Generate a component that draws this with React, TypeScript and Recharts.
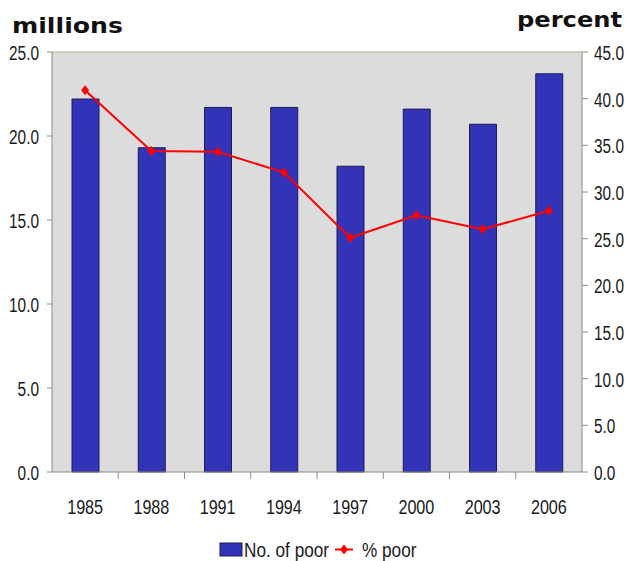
import { ComposedChart, Bar, Line, XAxis, YAxis, CartesianGrid, ReferenceLine } from "recharts"

const years = ["1985", "1988", "1991", "1994", "1997", "2000", "2003", "2006"]
const numPoor = [22.2, 19.3, 21.7, 21.7, 18.2, 21.6, 20.7, 23.7]
const pctPoor = [40.9, 34.4, 34.3, 32.1, 25.1, 27.5, 26.0, 28.0]
const leftTicks = [0, 5, 10, 15, 20, 25]
const rightTicks = [0, 5, 10, 15, 20, 25, 30, 35, 40, 45]

const seriesBar = "No. of poor"
const seriesLine = "% poor"

const chartData = years.map((year, i) => ({
    year,
    poor: numPoor[i],
    pct: pctPoor[i],
}))

const tickFont = '"Liberation Sans", Arial, sans-serif'
const titleFont = '"DejaVu Sans", Verdana, sans-serif'
const axisColor = "#8c8c80"

const YTick = (props: any) => {
    const { x, y, payload, textAnchor } = props
    return (
        <text
            transform={`translate(${x},${y}) scale(0.77,1)`}
            textAnchor={textAnchor}
            dy="0.4em"
            fontSize={20}
            fontFamily={tickFont}
            fill="#1a1a1a"
        >
            {Number(payload.value).toFixed(1)}
        </text>
    )
}

const XTick = (props: any) => {
    const { x, y, payload, index, width, visibleTicksCount } = props
    const half = width && visibleTicksCount ? width / visibleTicksCount / 2 : 33
    return (
        <g>
            {index < visibleTicksCount - 1 && (
                <line x1={x + half} x2={x + half} y1={y} y2={y + 7} stroke={axisColor} />
            )}
            <text
                transform={`translate(${x},${y + 34}) scale(0.77,1)`}
                textAnchor="middle"
                dy="0.36em"
                fontSize={21}
                fontFamily={tickFont}
                fill="#1a1a1a"
            >
                {payload.value}
            </text>
        </g>
    )
}

const Diamond = (props: any) => {
    const { cx, cy } = props
    if (cx == null || cy == null) return null
    return (
        <polygon
            points={`${cx},${cy - 5} ${cx + 4},${cy} ${cx},${cy + 5} ${cx - 4},${cy}`}
            fill="#ff0000"
        />
    )
}

export default function App() {
    return (
        <div style={{ position: "absolute", left: 0, top: 0, width: 627, height: 561, background: "#fff" }}>
            <ComposedChart
                width={627}
                height={561}
                data={chartData}
                margin={{ top: 52, right: 0, left: 0, bottom: 39 }}
            >
                <CartesianGrid yAxisId="left" horizontal={false} vertical={false} fill="#dcdcdc" />
                <XAxis
                    dataKey="year"
                    interval={0}
                    height={50}
                    tickLine={false}
                    tickSize={0}
                    tickMargin={0}
                    axisLine={{ stroke: axisColor }}
                    tick={<XTick />}
                />
                <YAxis
                    yAxisId="left"
                    orientation="left"
                    width={52}
                    domain={[0, 25]}
                    ticks={leftTicks}
                    tickSize={5}
                    tickMargin={8}
                    axisLine={{ stroke: axisColor }}
                    tickLine={{ stroke: axisColor }}
                    tick={<YTick />}
                />
                <YAxis
                    yAxisId="right"
                    orientation="right"
                    width={45}
                    domain={[0, 45]}
                    ticks={rightTicks}
                    tickSize={6}
                    tickMargin={6}
                    axisLine={{ stroke: axisColor }}
                    tickLine={{ stroke: axisColor }}
                    tick={<YTick />}
                />
                <ReferenceLine yAxisId="left" y={25} stroke="#c4c4ac" strokeWidth={1.5} />
                <Bar
                    yAxisId="left"
                    dataKey="poor"
                    name={seriesBar}
                    barSize={27}
                    fill="#3333b8"
                    stroke="#1c1c55"
                    strokeWidth={1}
                    isAnimationActive={false}
                />
                <Line
                    yAxisId="right"
                    dataKey="pct"
                    name={seriesLine}
                    stroke="#ff0000"
                    strokeWidth={2}
                    dot={<Diamond />}
                    activeDot={false}
                    isAnimationActive={false}
                />
            </ComposedChart>
            <svg
                width={627}
                height={561}
                style={{ position: "absolute", left: 0, top: 0, pointerEvents: "none" }}
            >
                <text
                    x={12}
                    y={33}
                    fontSize={22}
                    fontWeight="bold"
                    fontFamily={titleFont}
                    textLength={111}
                    lengthAdjust="spacingAndGlyphs"
                    fill="#111"
                >
                    millions
                </text>
                <text
                    x={517}
                    y={27}
                    fontSize={22}
                    fontWeight="bold"
                    fontFamily={titleFont}
                    textLength={105}
                    lengthAdjust="spacingAndGlyphs"
                    fill="#111"
                >
                    percent
                </text>
                <rect x={220} y={543} width={22} height={13} fill="#3333b8" stroke="#1c1c55" />
                <text
                    transform="translate(244,549.5) scale(0.86,1)"
                    dy="0.36em"
                    fontSize={20}
                    fontFamily={tickFont}
                    fill="#1a1a1a"
                >
                    {seriesBar}
                </text>
                <line x1={335} x2={353} y1={549.5} y2={549.5} stroke="#ff0000" strokeWidth={2} />
                <polygon points="344,544.5 348,549.5 344,554.5 340,549.5" fill="#ff0000" />
                <text
                    transform="translate(362,549.5) scale(0.86,1)"
                    dy="0.36em"
                    fontSize={20}
                    fontFamily={tickFont}
                    fill="#1a1a1a"
                >
                    {seriesLine}
                </text>
            </svg>
        </div>
    )
}
